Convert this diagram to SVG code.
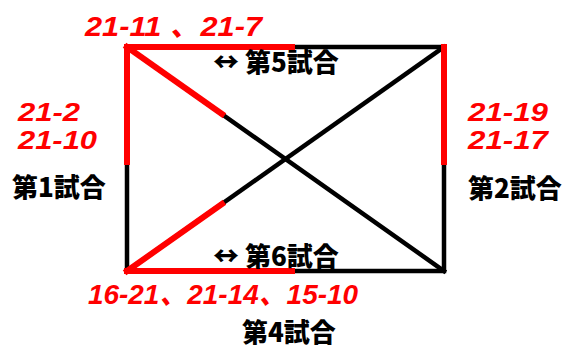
<svg xmlns="http://www.w3.org/2000/svg" width="564" height="349" viewBox="0 0 564 349">
<style>
.blk{stroke:#000;stroke-width:4.5;fill:none;stroke-linecap:square}
.red{stroke:#ff0000;stroke-width:6;fill:none;stroke-linecap:square}
.score{font-family:"Liberation Sans","Noto Sans CJK JP",sans-serif;font-weight:bold;font-style:italic;font-size:28px;fill:#ff0000}
.pair{font-size:25px}
.lbl{font-family:"Noto Sans CJK JP","Noto Sans CJK SC",sans-serif;font-weight:900;font-size:26px;fill:#000}
</style>
<rect width="564" height="349" fill="#fff"/>
<g id="connectors">
<rect class="blk" x="127" y="47" width="317" height="224" stroke-linecap="butt"/>
<line class="blk" x1="127" y1="47" x2="444" y2="271"/>
<line class="blk" x1="127" y1="271" x2="444" y2="47"/>
<line class="red" x1="127" y1="47" x2="292" y2="47"/>
<line class="red" x1="127" y1="47" x2="127" y2="162"/>
<line class="red" x1="127" y1="47" x2="222" y2="114"/>
<line class="red" x1="444" y1="47" x2="444" y2="162"/>
<line class="red" x1="127" y1="271" x2="292" y2="271"/>
<line class="red" x1="127" y1="271" x2="222" y2="204"/>
</g>
<g id="match1">
<text class="score pair" x="18" y="121" textLength="62" lengthAdjust="spacingAndGlyphs">21-2</text>
<text class="score pair" x="18" y="149" textLength="79" lengthAdjust="spacingAndGlyphs">21-10</text>
<text class="lbl" x="12" y="197">第1試合</text>
</g>
<g id="match2">
<text class="score pair" x="468" y="121" textLength="80" lengthAdjust="spacingAndGlyphs">21-19</text>
<text class="score pair" x="468" y="149" textLength="80" lengthAdjust="spacingAndGlyphs">21-17</text>
<text class="lbl" x="468" y="198">第2試合</text>
</g>
<g id="match5">
<text class="score" x="85" y="36" textLength="177" lengthAdjust="spacingAndGlyphs">21-11 、21-7</text>
<text class="lbl" x="213" y="72">↔ 第5試合</text>
</g>
<g id="match6">
<text class="lbl" x="213" y="266">↔ 第6試合</text>
</g>
<g id="match4">
<text class="score" x="88" y="304" textLength="270" lengthAdjust="spacingAndGlyphs">16-21、21-14、15-10</text>
<text class="lbl" x="242" y="342">第4試合</text>
</g>
</svg>
